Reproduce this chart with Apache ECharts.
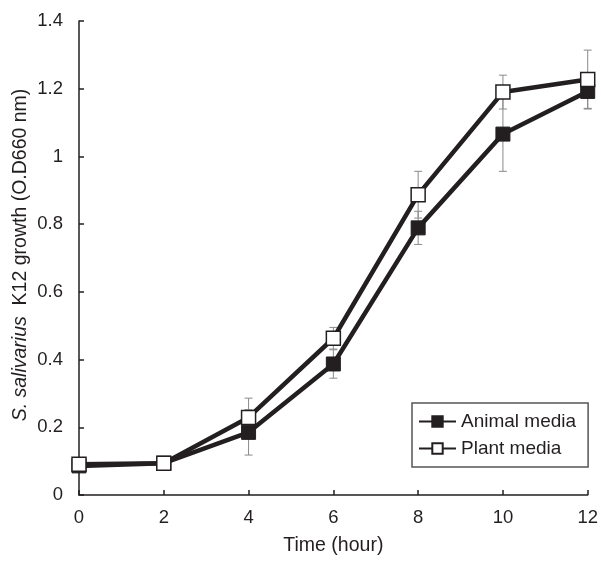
<!DOCTYPE html>
<html>
<head>
<meta charset="utf-8">
<script src="https://cdn.jsdelivr.net/npm/echarts@6/dist/echarts.min.js"></script>
<style>html,body{margin:0;padding:0;background:#fff;overflow:hidden}#c{width:601px;height:561px}</style>
</head>
<body>
<div id="c"></div>
<script>
var hours = [0, 2, 4, 6, 8, 10, 12];
var animal = [0.086, 0.094, 0.185, 0.387, 0.789, 1.066, 1.192];
var animalErr = [0.005, 0.005, 0.067, 0.042, 0.049, 0.11, 0.05];
var plant = [0.091, 0.094, 0.229, 0.463, 0.887, 1.19, 1.227];
var plantErr = [0.005, 0.005, 0.057, 0.032, 0.069, 0.05, 0.087];
var seriesNames = ['Animal media', 'Plant media'];
var xTitle = 'Time (hour)';
var yTitleItalic = 'S. salivarius';
var yTitleRest = 'K12 growth (O.D660 nm)';

var FONT = '"Liberation Sans", Arial, sans-serif';
var INK = '#231f20';

function pairs(vals) { return hours.map(function (h, i) { return [h, vals[i]]; }); }
function errData(vals, errs) { return hours.map(function (h, i) { return [h, vals[i] - errs[i], vals[i] + errs[i]]; }); }

function errRender(params, api) {
  var x = api.value(0);
  var lo = api.coord([x, api.value(1)]);
  var hi = api.coord([x, api.value(2)]);
  var w = 4;
  var st = { stroke: '#8a8a8a', lineWidth: 1 };
  return {
    type: 'group',
    children: [
      { type: 'line', shape: { x1: lo[0], y1: lo[1], x2: hi[0], y2: hi[1] }, style: st },
      { type: 'line', shape: { x1: lo[0] - w, y1: lo[1], x2: lo[0] + w, y2: lo[1] }, style: st },
      { type: 'line', shape: { x1: hi[0] - w, y1: hi[1], x2: hi[0] + w, y2: hi[1] }, style: st }
    ]
  };
}

var chart = echarts.init(document.getElementById('c'), null, { renderer: 'canvas' });
chart.setOption({
  animation: false,
  backgroundColor: '#fff',
  textStyle: { fontFamily: FONT },
  grid: { left: 79, right: 11, top: 21, bottom: 61, containLabel: false },
  legend: {
    orient: 'vertical',
    left: 412, top: 403,
    data: seriesNames,
    itemWidth: 37, itemHeight: 13, itemGap: 8,
    padding: [9, 12, 9, 6],
    borderColor: '#555', borderWidth: 1.5,
    textStyle: { fontFamily: FONT, fontSize: 19, color: INK }
  },
  xAxis: {
    type: 'value', min: 0, max: 12, interval: 2,
    name: xTitle, nameLocation: 'middle', nameGap: 41,
    nameTextStyle: { fontFamily: FONT, fontSize: 19.5, color: INK },
    axisLine: { show: true, onZero: false, lineStyle: { color: INK, width: 1.5 } },
    axisTick: { show: true, inside: true, length: 5, lineStyle: { color: INK, width: 1.5 } },
    axisLabel: { fontFamily: FONT, fontSize: 18.5, color: INK, margin: 13 },
    splitLine: { show: false }
  },
  yAxis: {
    type: 'value', min: 0, max: 1.4, interval: 0.2,
    axisLine: { show: true, onZero: false, lineStyle: { color: INK, width: 1.5 } },
    axisTick: { show: true, inside: true, length: 5, lineStyle: { color: INK, width: 1.5 } },
    axisLabel: { fontFamily: FONT, fontSize: 18.5, color: INK, margin: 16 },
    splitLine: { show: false }
  },
  graphic: [{
    type: 'text', x: 21, y: 255, rotation: Math.PI / 2,
    style: {
      text: '{it|' + yTitleItalic + '}  ' + yTitleRest,
      rich: { it: { fontStyle: 'italic', fontFamily: FONT, fontSize: 19.5, fill: INK } },
      fontFamily: FONT, fontSize: 19.5, fill: INK,
      align: 'center', verticalAlign: 'middle'
    }
  }],
  series: [
    { type: 'custom', name: 'animalErr', renderItem: errRender, data: errData(animal, animalErr), z: 1, silent: true, encode: { x: 0, y: [1, 2] } },
    { type: 'custom', name: 'plantErr', renderItem: errRender, data: errData(plant, plantErr), z: 1, silent: true, encode: { x: 0, y: [1, 2] } },
    {
      type: 'line', name: seriesNames[0], data: pairs(animal), z: 3,
      symbol: 'rect', symbolSize: 14, showAllSymbol: true,
      lineStyle: { color: INK, width: 4.5 },
      itemStyle: { color: INK, borderColor: INK, borderWidth: 1 }
    },
    {
      type: 'line', name: seriesNames[1], data: pairs(plant), z: 4,
      symbol: 'rect', symbolSize: 14, showAllSymbol: true,
      lineStyle: { color: INK, width: 4.5 },
      itemStyle: { color: '#fff', borderColor: INK, borderWidth: 1.5 }
    }
  ]
});
</script>
</body>
</html>
